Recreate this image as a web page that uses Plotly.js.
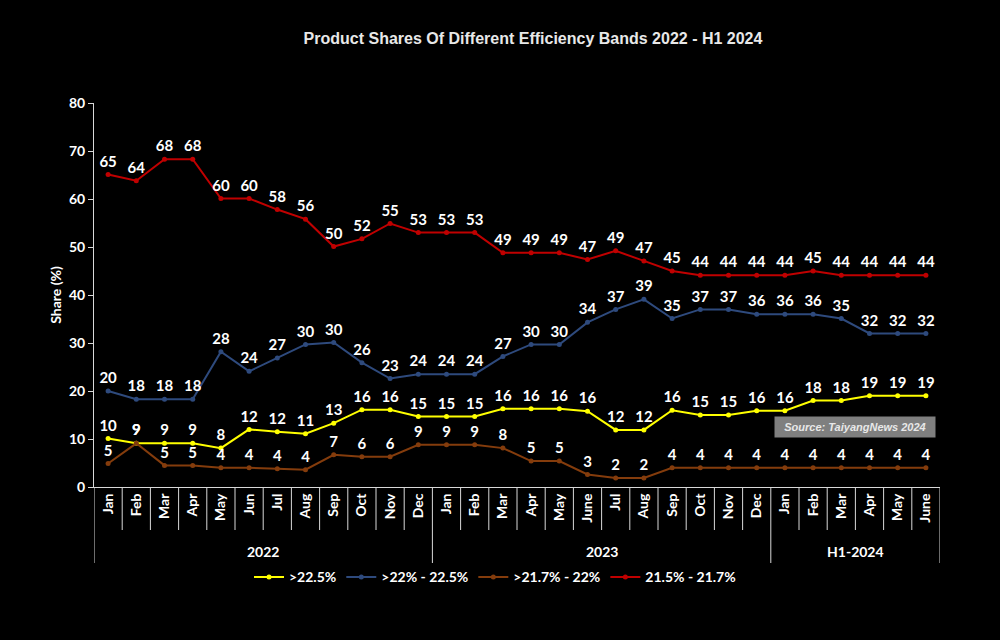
<!DOCTYPE html>
<html>
<head>
<meta charset="utf-8">
<script src="https://cdn.plot.ly/plotly-3.0.1.min.js"></script>
<style>
  html, body { margin: 0; padding: 0; background: #000; }
  #chart { width: 1000px; height: 640px; }
</style>
</head>
<body>
<div id="chart"></div>
<script>
const periods = [
  '2022', '2022', '2022', '2022', '2022', '2022', '2022', '2022', '2022', '2022', '2022', '2022',
  '2023', '2023', '2023', '2023', '2023', '2023', '2023', '2023', '2023', '2023', '2023', '2023',
  'H1-2024', 'H1-2024', 'H1-2024', 'H1-2024', 'H1-2024', 'H1-2024'
];
const months = [
  'Jan', 'Feb', 'Mar', 'Apr', 'May', 'Jun', 'Jul', 'Aug', 'Sep', 'Oct', 'Nov', 'Dec',
  'Jan', 'Feb', 'Mar', 'Apr', 'May', 'June', 'Jul', 'Aug', 'Sep', 'Oct', 'Nov', 'Dec',
  'Jan', 'Feb', 'Mar', 'Apr', 'May', 'June'
];
const groups = ['2022', '2023', 'H1-2024'];

const above225 = [10.1, 9.1, 9.1, 9.1, 8.1, 12.0, 11.5, 11.1, 13.3, 16.1, 16.1, 14.7,
                  14.7, 14.7, 16.3, 16.3, 16.3, 15.8, 11.9, 11.9, 16.0, 15.0, 15.0, 15.9,
                  15.9, 18.0, 18.0, 19.0, 19.0, 19.0];
const band22to225 = [20.0, 18.3, 18.3, 18.3, 28.2, 24.1, 26.9, 29.7, 30.1, 25.9, 22.6, 23.5,
                     23.5, 23.5, 27.2, 29.7, 29.7, 34.3, 37.0, 39.1, 35.1, 37.0, 37.0, 36.0,
                     36.0, 36.0, 35.1, 32.0, 32.0, 32.0];
const band217to22 = [4.9, 9.1, 4.5, 4.5, 4.0, 4.0, 3.8, 3.6, 6.7, 6.3, 6.3, 8.8,
                     8.8, 8.8, 8.1, 5.4, 5.4, 2.6, 1.9, 1.9, 4.0, 4.0, 4.0, 4.0,
                     4.0, 4.0, 4.0, 4.0, 4.0, 4.0];
const band215to217 = [65.1, 63.8, 68.3, 68.3, 60.1, 60.1, 57.8, 55.8, 50.1, 51.7, 54.9, 53.0,
                      53.0, 53.0, 48.8, 48.8, 48.8, 47.4, 49.2, 47.1, 45.0, 44.1, 44.1, 44.1,
                      44.1, 45.0, 44.1, 44.1, 44.1, 44.1];

// one unique category per month, shown with its month name
const keys = months.map((m, i) => periods[i] + ' ' + m);

const labelFont = { family: 'Lato, sans-serif', size: 15, color: '#ffffff', weight: 'bold' };
const axisColor = '#d9d9d9';

function series(name, values, color) {
  return {
    type: 'scatter',
    mode: 'lines+markers+text',
    name: name,
    x: keys,
    y: values,
    text: values.map(v => Math.round(v)),
    textposition: 'top center',
    textfont: labelFont,
    line: { color: color, width: 2 },
    marker: { color: color, size: 5 },
    cliponaxis: false,
    hoverinfo: 'skip'
  };
}

const data = [
  series('>22.5%', above225, '#ffff00'),
  series('>22% - 22.5%', band22to225, '#2e4a7d'),
  series('>21.7% - 22%', band217to22, '#843c0c'),
  series('21.5% - 21.7%', band215to217, '#c00000')
];

// axis decoration below the plot: month dividers, group dividers, group labels
const plotH = 384;
const monthDrop = -43 / plotH;
const groupDrop = -76 / plotH;
const shapes = [];
const annotations = [];
for (let i = 0; i < keys.length - 1; i++) {
  const groupEnd = periods[i] !== periods[i + 1];
  shapes.push({
    type: 'line', xref: 'x', yref: 'paper',
    x0: i + 0.5, x1: i + 0.5, y0: 0, y1: groupEnd ? groupDrop : monthDrop,
    line: { color: axisColor, width: 1 }
  });
}
[-0.5, keys.length - 0.5].forEach(xv => shapes.push({
  type: 'line', xref: 'x', yref: 'paper',
  x0: xv, x1: xv, y0: 0, y1: groupDrop,
  line: { color: axisColor, width: 1 }
}));
groups.forEach(g => {
  const first = periods.indexOf(g);
  const last = periods.lastIndexOf(g);
  annotations.push({
    text: g, xref: 'x', yref: 'paper',
    x: (first + last) / 2, y: -64 / plotH,
    xanchor: 'center', yanchor: 'middle', showarrow: false,
    font: { family: 'Lato, sans-serif', size: 14, color: '#ffffff', weight: 'bold' }
  });
});
annotations.push({
  text: '<i>Source: TaiyangNews 2024</i>',
  xref: 'paper', yref: 'y',
  x: 0.995, y: 12.6,
  xanchor: 'right', yanchor: 'middle',
  showarrow: false,
  bgcolor: '#7f7f7f',
  borderpad: 4,
  width: 152,
  font: { family: 'Liberation Sans, Arial, sans-serif', size: 11, color: '#e8e8e8', weight: 'bold' }
});

const layout = {
  width: 1000,
  height: 640,
  paper_bgcolor: '#000000',
  plot_bgcolor: '#000000',
  margin: { l: 94, r: 60, t: 103, b: 153 },
  font: { family: 'Lato, sans-serif', color: '#ffffff', size: 13, weight: 'bold' },
  title: {
    text: 'Product Shares Of Different Efficiency Bands 2022 - H1 2024',
    x: 0.533, xref: 'container', xanchor: 'center',
    y: 0.94, yref: 'container', yanchor: 'middle',
    font: { family: 'Liberation Sans, Arial, sans-serif', size: 16, color: '#e8e8e8', weight: 'bold' }
  },
  xaxis: {
    type: 'category',
    tickmode: 'array',
    tickvals: keys,
    ticktext: months,
    showline: true,
    linecolor: axisColor,
    linewidth: 1,
    showgrid: false,
    ticks: '',
    tickangle: -90,
    tickfont: { family: 'Lato, sans-serif', size: 14, color: '#ffffff', weight: 'bold' },
    range: [-0.5, keys.length - 0.5]
  },
  yaxis: {
    range: [0, 80],
    dtick: 10,
    showline: true,
    linecolor: axisColor,
    linewidth: 1,
    showgrid: false,
    zeroline: false,
    ticks: 'outside',
    ticklen: 5,
    tickcolor: axisColor,
    tickfont: { family: 'Lato, sans-serif', size: 14, color: '#ffffff', weight: 'bold' },
    title: { text: 'Share (%)', font: { family: 'Lato, sans-serif', size: 14, color: '#ffffff', weight: 'bold' }, standoff: 4 }
  },
  legend: {
    orientation: 'h',
    x: 0.495, xref: 'container', xanchor: 'center',
    y: 0.098, yref: 'container', yanchor: 'middle',
    font: { family: 'Lato, sans-serif', size: 14, color: '#ffffff', weight: 'bold' },
    itemwidth: 30,
    bgcolor: 'rgba(0,0,0,0)'
  },
  shapes: shapes,
  annotations: annotations,
  showlegend: true
};

Plotly.newPlot('chart', data, layout, { displayModeBar: false, staticPlot: true });
</script>
</body>
</html>
